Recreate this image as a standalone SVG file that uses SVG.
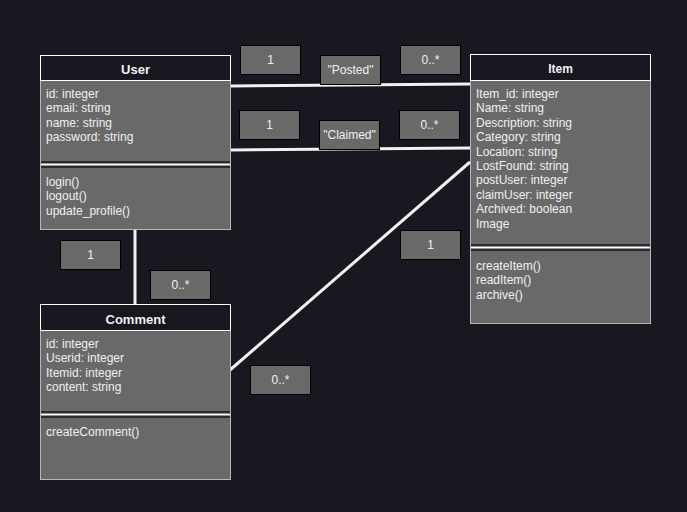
<svg xmlns="http://www.w3.org/2000/svg" width="687" height="512" viewBox="0 0 687 512">
<style>
text{font-family:"Liberation Sans",Arial,sans-serif;fill:#f0f0f0}
.t{font-size:13px;font-weight:bold;text-anchor:middle}
.a{font-size:12px}
.lb{font-size:12px;text-anchor:middle}
.hd{fill:#18161e;stroke:#ffffff;stroke-width:1}
.body{fill:#696969;stroke:#b8b8b8;stroke-width:1}
.sep{fill:#2a2a30;stroke:none}
.sl{stroke:#ffffff;stroke-width:2}
.box{fill:#696969;stroke:#000000;stroke-width:1}
.c{stroke:#f2f2f2;stroke-width:3;fill:none}
</style>
<rect width="687" height="512" fill="#19171f"/>
<g id="connectors">
<line class="c" x1="230" y1="86" x2="470" y2="84"/>
<line class="c" x1="230" y1="150" x2="470" y2="148"/>
<line class="c" x1="135" y1="230" x2="135" y2="305"/>
<line class="c" x1="230" y1="370" x2="470" y2="162"/>
</g>
<g id="labels">
<rect class="box" x="240.5" y="45.5" width="60" height="29"/><text class="lb" x="270.5" y="64">1</text>
<rect class="box" x="320.5" y="55.5" width="60" height="29"/><text class="lb" x="350.5" y="74">"Posted"</text>
<rect class="box" x="400.5" y="45.5" width="60" height="29"/><text class="lb" x="430.5" y="64">0..*</text>
<rect class="box" x="239.5" y="110.5" width="60" height="29"/><text class="lb" x="269.5" y="129">1</text>
<rect class="box" x="319.5" y="120.5" width="60" height="29"/><text class="lb" x="349.5" y="139">"Claimed"</text>
<rect class="box" x="399.5" y="110.5" width="60" height="29"/><text class="lb" x="429.5" y="129">0..*</text>
<rect class="box" x="60.5" y="240.5" width="60" height="29"/><text class="lb" x="90.5" y="259">1</text>
<rect class="box" x="150.5" y="270.5" width="60" height="29"/><text class="lb" x="180.5" y="289">0..*</text>
<rect class="box" x="400.5" y="230.5" width="60" height="29"/><text class="lb" x="430.5" y="249">1</text>
<rect class="box" x="250.5" y="365.5" width="60" height="29"/><text class="lb" x="280.5" y="384">0..*</text>
</g>
<g id="user">
<rect class="body" x="40.5" y="80.5" width="190" height="149"/>
<rect class="sep" x="41" y="161" width="189" height="7"/>
<line class="sl" x1="41" y1="164.5" x2="230" y2="164.5"/>
<rect class="hd" x="40.5" y="55.5" width="190" height="25"/>
<text class="t" x="135.5" y="73.5">User</text>
<text class="a" x="46" y="97.5">id: integer</text>
<text class="a" x="46" y="112">email: string</text>
<text class="a" x="46" y="126.5">name: string</text>
<text class="a" x="46" y="141">password: string</text>
<text class="a" x="46" y="186">login()</text>
<text class="a" x="46" y="200">logout()</text>
<text class="a" x="46" y="215">update_profile()</text>
</g>
<g id="item">
<rect class="body" x="470.5" y="80.5" width="180" height="243"/>
<rect class="sep" x="471" y="244" width="179" height="7"/>
<line class="sl" x1="471" y1="247.5" x2="650" y2="247.5"/>
<rect class="hd" x="470.5" y="54.5" width="180" height="26"/>
<text class="t" x="560.5" y="72.5" style="font-size:12px">Item</text>
<text class="a" x="476" y="98">Item_id: integer</text>
<text class="a" x="476" y="112.4">Name: string</text>
<text class="a" x="476" y="126.8">Description: string</text>
<text class="a" x="476" y="141.2">Category: string</text>
<text class="a" x="476" y="155.6">Location: string</text>
<text class="a" x="476" y="170">LostFound: string</text>
<text class="a" x="476" y="184.4">postUser: integer</text>
<text class="a" x="476" y="198.8">claimUser: integer</text>
<text class="a" x="476" y="213.2">Archived: boolean</text>
<text class="a" x="476" y="227.6">Image</text>
<text class="a" x="476" y="270">createItem()</text>
<text class="a" x="476" y="284.4">readItem()</text>
<text class="a" x="476" y="298.8">archive()</text>
</g>
<g id="comment">
<rect class="body" x="40.5" y="330.5" width="190" height="149"/>
<rect class="sep" x="41" y="411" width="189" height="7"/>
<line class="sl" x1="41" y1="414.5" x2="230" y2="414.5"/>
<rect class="hd" x="40.5" y="304.5" width="190" height="26"/>
<text class="t" x="135.5" y="323.5">Comment</text>
<text class="a" x="46" y="348">id: integer</text>
<text class="a" x="46" y="362.4">Userid: integer</text>
<text class="a" x="46" y="376.8">Itemid: integer</text>
<text class="a" x="46" y="391.2">content: string</text>
<text class="a" x="46" y="436">createComment()</text>
</g>
</svg>
